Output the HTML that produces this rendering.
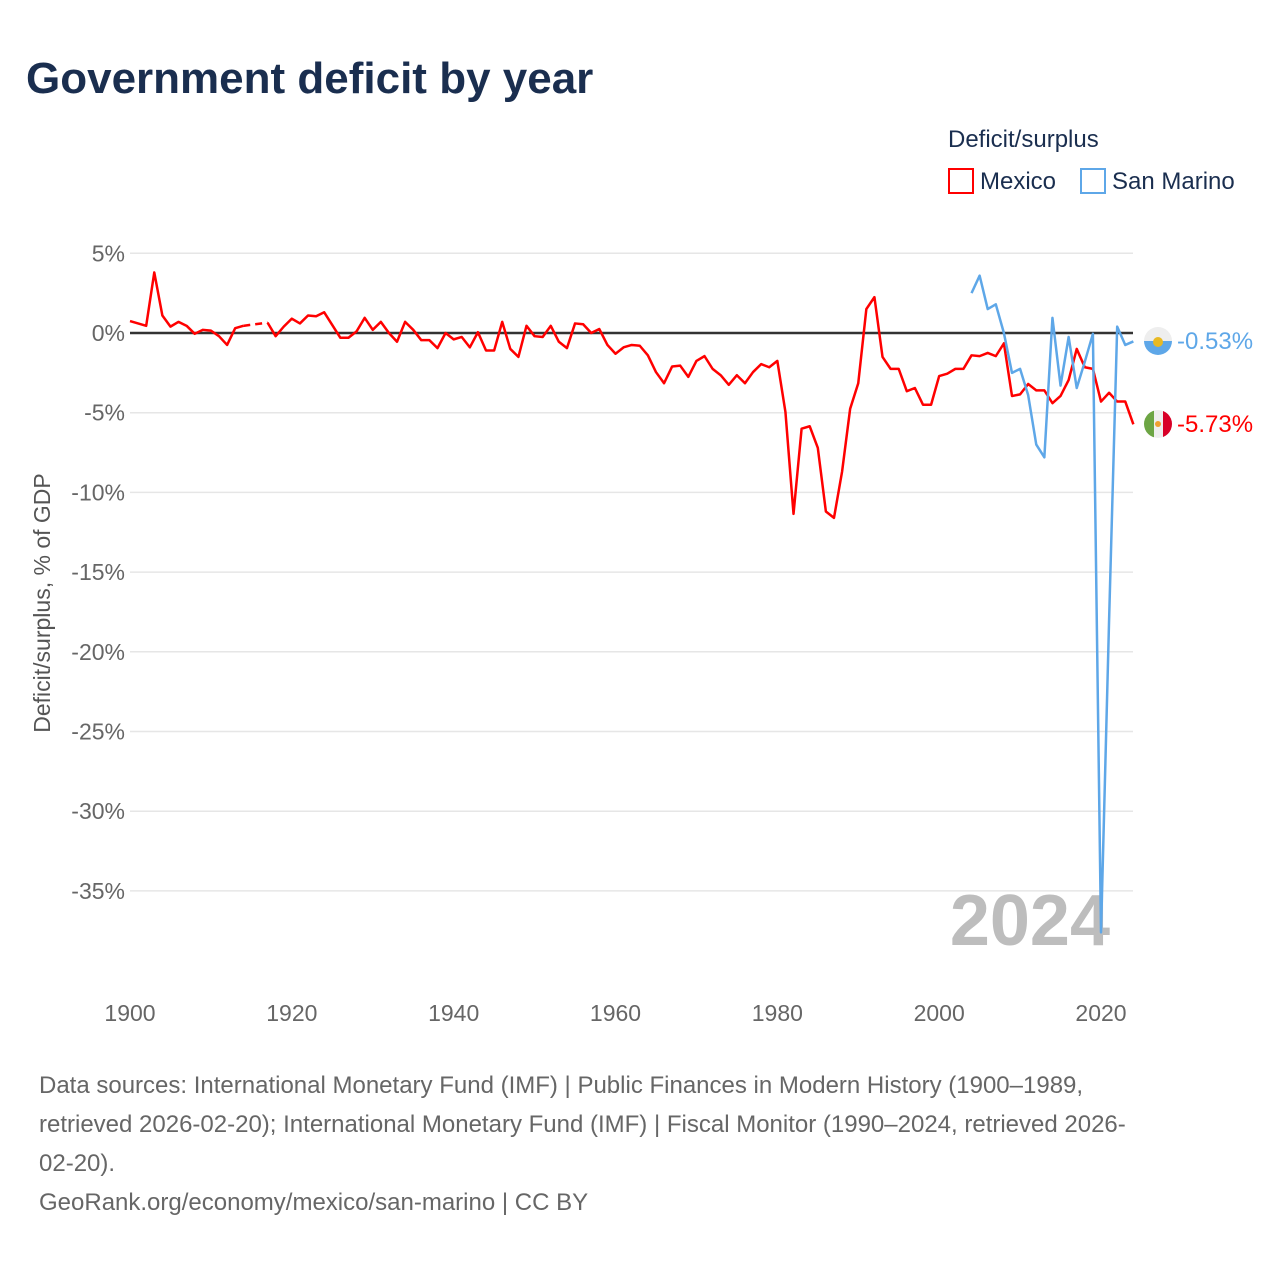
<!DOCTYPE html>
<html><head><meta charset="utf-8"><style>
body{margin:0;background:#fff;font-family:"Liberation Sans",sans-serif;}
#wrap{position:relative;width:1280px;height:1280px;overflow:hidden;}
</style></head><body>
<div id="wrap">
<svg id="chart" width="1280" height="1280" font-family="Liberation Sans, sans-serif">
<text x="26" y="93" font-size="44" font-weight="bold" fill="#1a2e4f">Government deficit by year</text>
<text x="948" y="147" font-size="24" fill="#1a2e4f">Deficit/surplus</text>
<g><rect x="949" y="169" width="24" height="24" fill="none" stroke="#f00" stroke-width="2"/><text x="980" y="189" font-size="24" fill="#1a2e4f">Mexico</text></g>
<g><rect x="1081" y="169" width="24" height="24" fill="none" stroke="#5ea7e8" stroke-width="2"/><text x="1112" y="189" font-size="24" fill="#1a2e4f">San Marino</text></g>
<g id="grid"></g>
<g id="yt"></g>
<g id="xt"></g>
<text transform="translate(50,603) rotate(-90)" text-anchor="middle" font-size="23" fill="#555">Deficit/surplus, % of GDP</text>
<text x="1110" y="945" text-anchor="end" font-size="72" font-weight="bold" fill="#bdbdbd">2024</text>
<line id="zero" stroke="#333" stroke-width="2.5"/>
<g id="series"></g>
<g><clipPath id="c1"><circle cx="1158" cy="341" r="14"/></clipPath><g clip-path="url(#c1)"><rect x="1144" y="327" width="28" height="14" fill="#eee"/><rect x="1144" y="341" width="28" height="14" fill="#5ea7e8"/><circle cx="1158" cy="342" r="5" fill="#e8b923"/></g></g>
<g><clipPath id="c2"><circle cx="1158" cy="424" r="14"/></clipPath><g clip-path="url(#c2)"><rect x="1144" y="410" width="10" height="28" fill="#6da544"/><rect x="1154" y="410" width="9" height="28" fill="#eee"/><rect x="1163" y="410" width="10" height="28" fill="#d80027"/><circle cx="1158" cy="424" r="3" fill="#f0a030"/></g></g>
<text x="1177" y="349" font-size="24" fill="#5ea7e8">-0.53%</text>
<text x="1177" y="432" font-size="24" fill="#f00">-5.73%</text>
<g font-size="24" fill="#666">
<text x="39" y="1093">Data sources: International Monetary Fund (IMF) | Public Finances in Modern History (1900–1989,</text>
<text x="39" y="1132">retrieved 2026-02-20); International Monetary Fund (IMF) | Fiscal Monitor (1990–2024, retrieved 2026-</text>
<text x="39" y="1171">02-20).</text>
<text x="39" y="1210">GeoRank.org/economy/mexico/san-marino | CC BY</text>
</g>
</svg>
</div>
<script>
const yTicks=[5,0,-5,-10,-15,-20,-25,-30,-35];
const xTicks=[1900,1920,1940,1960,1980,2000,2020];
const mexicoStart=1900;
const mexicoValues=[0.75,0.6,0.45,3.8,1.1,0.4,0.7,0.45,-0.05,0.2,0.15,-0.2,-0.75,0.3,0.45,null,null,0.65,-0.2,0.4,
0.9,0.6,1.1,1.05,1.3,0.5,-0.3,-0.3,0.1,0.95,0.2,0.7,0,-0.55,0.7,0.2,-0.45,-0.45,-0.95,0,
-0.4,-0.25,-0.9,0.05,-1.1,-1.1,0.7,-1.0,-1.5,0.45,-0.2,-0.25,0.45,-0.55,-0.95,0.6,0.55,0,0.25,-0.75,
-1.3,-0.9,-0.75,-0.8,-1.4,-2.45,-3.15,-2.1,-2.05,-2.75,-1.75,-1.45,-2.25,-2.65,-3.25,-2.65,-3.15,-2.45,-1.95,-2.15,
-1.75,-4.95,-11.35,-6.0,-5.85,-7.2,-11.2,-11.6,-8.7,-4.75,-3.15,1.5,2.25,-1.5,-2.25,-2.25,-3.65,-3.45,-4.5,-4.5,
-2.7,-2.55,-2.25,-2.25,-1.4,-1.45,-1.25,-1.45,-0.65,-3.95,-3.85,-3.2,-3.6,-3.6,-4.4,-3.95,-2.95,-1.0,-2.15,-2.25,
-4.3,-3.75,-4.3,-4.3,-5.73];
const sanMarinoStart=2004;
const sanMarinoValues=[2.5,3.6,1.5,1.8,0,-2.5,-2.25,-3.9,-7.0,-7.8,0.95,-3.3,-0.25,-3.45,-1.8,-0.05,-37.6,-18,0.4,-0.75,-0.53];
const X=yr=>130+(yr-1900)*(971/120);
const Y=v=>333-v*15.94;
const NS='http://www.w3.org/2000/svg';
const grid=document.getElementById('grid'),yt=document.getElementById('yt'),xt=document.getElementById('xt');
yTicks.forEach(t=>{
 if(t!==0){const l=document.createElementNS(NS,'line');
 
 
 l.setAttribute('x1',130);l.setAttribute('x2',1133);l.setAttribute('y1',Y(t));l.setAttribute('y2',Y(t));
 l.setAttribute('stroke','#e6e6e6');l.setAttribute('stroke-width','1.5');grid.appendChild(l);}
 const s=document.createElementNS(NS,'text');
 
 
 s.setAttribute('x',125);s.setAttribute('y',Y(t)+8);s.setAttribute('text-anchor','end');
 s.setAttribute('font-size','23');s.setAttribute('fill','#666');s.textContent=t+'%';yt.appendChild(s);
});
xTicks.forEach(t=>{
 const s=document.createElementNS(NS,'text');
 
 
 s.setAttribute('x',X(t));s.setAttribute('y',1021);s.setAttribute('text-anchor','middle');
 s.setAttribute('font-size','23');s.setAttribute('fill','#666');s.textContent=t;xt.appendChild(s);
});
const z=document.getElementById('zero');
z.setAttribute('x1',130);z.setAttribute('x2',1133);z.setAttribute('y1',Y(0));z.setAttribute('y2',Y(0));
const ser=document.getElementById('series');
function draw(start,vals,color,name){
 let d='',dash='',prev=null,gap=false;
 vals.forEach((v,i)=>{
  if(v===null){gap=true;return;}
  const x=X(start+i),y=Y(v);
  if(prev&&gap){dash+='M'+prev[0]+' '+prev[1]+'L'+x+' '+y;d+='M'+x+' '+y;}
  else d+=(prev?'L':'M')+x+' '+y;
  prev=[x,y];gap=false;
 });
 const p=document.createElementNS(NS,'path');
 
 
 p.setAttribute('d',d);p.setAttribute('fill','none');p.setAttribute('stroke',color);p.setAttribute('stroke-width','2.5');p.setAttribute('stroke-linejoin','round');
 ser.appendChild(p);
 if(dash){const q=document.createElementNS(NS,'path');
 
 
 q.setAttribute('d',dash);q.setAttribute('fill','none');q.setAttribute('stroke',color);q.setAttribute('stroke-width','2.5');q.setAttribute('stroke-dasharray','7 5');
 ser.appendChild(q);}
}
draw(mexicoStart,mexicoValues,'#f00','mexico');
draw(sanMarinoStart,sanMarinoValues,'#5ea7e8','san-marino');
</script>
</body></html>
